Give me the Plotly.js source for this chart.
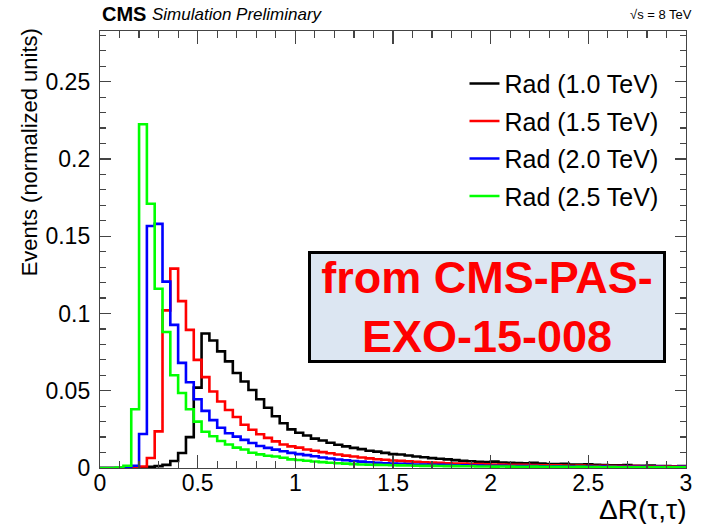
<!DOCTYPE html>
<html>
<head>
<meta charset="utf-8">
<script src="https://cdn.plot.ly/plotly-3.0.1.min.js"></script>
<style>
html,body{margin:0;padding:0;background:#fff;}
#chart{width:703px;height:524px;}
</style>
</head>
<body>
<div id="chart"></div>
<script>
// Histogram binning (75 bins of width 0.04 from 0 to 3)
const binLow = 0.0;
const binWidth = 0.04;
const nBins = 75;

const seriesNames = ["Rad (1.0 TeV)", "Rad (1.5 TeV)", "Rad (2.0 TeV)", "Rad (2.5 TeV)"];
const seriesColors = ["#000000", "#ff0000", "#0000ff", "#00ff00"];

const rad10 = [0,0,0,0,0.0003,0.0005,0.0008,0.0012,0.002,0.0045,
  0.0097,0.020,0.052,0.087,0.0825,0.0755,0.069,0.0615,0.056,0.0505,
  0.0445,0.039,0.0335,0.029,0.025,0.0228,0.021,0.019,0.0178,0.0163,
  0.015,0.014,0.013,0.0122,0.0112,0.0106,0.0098,0.009,0.0087,0.0081,
  0.0074,0.007,0.0064,0.006,0.0056,0.0051,0.0047,0.0044,0.004,0.0038,
  0.0041,0.0036,0.0034,0.0032,0.003,0.0033,0.0029,0.0026,0.0025,0.0027,
  0.0023,0.0022,0.0024,0.002,0.0019,0.0018,0.0017,0.0019,0.0015,0.0014,
  0.0016,0.0013,0.0012,0.0011,0.0012];

const rad15 = [0,0,0,0,0.0005,0.001,0.0065,0.0237,0.102,0.129,
  0.108,0.0894,0.070,0.0588,0.0495,0.043,0.0375,0.033,0.028,0.0248,
  0.0218,0.0195,0.0172,0.0152,0.014,0.0132,0.012,0.0112,0.0103,0.0095,
  0.0087,0.008,0.0074,0.0068,0.0062,0.0057,0.0053,0.0049,0.0046,0.0043,
  0.004,0.0037,0.0035,0.0033,0.0031,0.0029,0.0028,0.0026,0.0025,0.0024,
  0.0023,0.0022,0.0021,0.002,0.0021,0.0019,0.0018,0.0017,0.0018,0.0016,
  0.0015,0.0016,0.0014,0.0013,0.0014,0.0012,0.0012,0.0011,0.0012,0.001,
  0.001,0.0011,0.0009,0.0009,0.001];

const rad20 = [0,0,0,0.0003,0.0015,0.022,0.1566,0.158,0.1206,0.0926,
  0.068,0.0555,0.0445,0.037,0.031,0.026,0.0225,0.0203,0.0182,0.0162,
  0.0142,0.013,0.0119,0.0108,0.0098,0.009,0.0083,0.0076,0.0068,0.0061,
  0.0055,0.005,0.0045,0.0041,0.0037,0.0034,0.0031,0.0029,0.0027,0.0025,
  0.0023,0.0022,0.0021,0.002,0.0019,0.0018,0.0017,0.0016,0.0016,0.0015,
  0.0014,0.0015,0.0013,0.0012,0.0013,0.0012,0.0011,0.001,0.0011,0.001,
  0.0009,0.001,0.0009,0.0008,0.0009,0.0008,0.0007,0.0008,0.0007,0.0007,
  0.0006,0.0007,0.0006,0.0006,0.0007];

const rad25 = [0,0,0.0003,0.0015,0.038,0.2225,0.171,0.116,0.088,0.060,
  0.0485,0.038,0.030,0.0235,0.0205,0.0175,0.0152,0.0132,0.012,0.0099,
  0.0088,0.0079,0.0074,0.0066,0.0056,0.0052,0.0047,0.0042,0.0038,0.0034,
  0.0031,0.0028,0.0025,0.0023,0.0021,0.002,0.0019,0.0018,0.0017,0.0016,
  0.0015,0.0014,0.0014,0.0013,0.0012,0.0012,0.0011,0.0011,0.001,0.001,
  0.0009,0.001,0.0009,0.0008,0.0008,0.0009,0.0007,0.0008,0.0007,0.0007,
  0.0006,0.0007,0.0006,0.0006,0.0005,0.0006,0.0005,0.0005,0.0005,0.0004,
  0.0005,0.0004,0.0004,0.0004,0.0004];

const xTickVals = [0, 0.5, 1, 1.5, 2, 2.5, 3];
const xTickText = ["0", "0.5", "1", "1.5", "2", "2.5", "3"];
const yTickVals = [0, 0.05, 0.1, 0.15, 0.2, 0.25];
const yTickText = ["0", "0.05", "0.1", "0.15", "0.2", "0.25"];

const headerCMS = "CMS";
const headerSim = "Simulation Preliminary";
const headerEnergy = "\u221As = 8 TeV";
const xTitle = "\u0394R(\u03C4,\u03C4)";
const yTitle = "Events (normalized units)";
const stampText = "from CMS-PAS-<br>EXO-15-008";

// bin edges
const edges = [];
for (let i = 0; i <= nBins; i++) edges.push(+(binLow + i * binWidth).toFixed(4));

const allSeries = [rad10, rad15, rad20, rad25];
const traces = allSeries.map((vals, k) => ({
  type: "scatter",
  mode: "lines",
  x: edges,
  y: vals.concat([vals[vals.length - 1]]),
  line: {shape: "hv", color: seriesColors[k], width: 2.6},
  name: seriesNames[k],
  legendgroup: "g" + k,
  hoverinfo: "skip"
}));

const FONT = "Liberation Sans, Arial, Helvetica, sans-serif";
const axisCommon = {
  showline: true, linecolor: "#444", linewidth: 1.2,
  mirror: "allticks", ticks: "inside", tickcolor: "#444", tickwidth: 1.2,
  showgrid: false, zeroline: false,
  tickfont: {family: FONT, size: 23, color: "#000"},
  fixedrange: true
};

const layout = {
  width: 703, height: 524,
  margin: {l: 100, r: 17, t: 31, b: 56},
  paper_bgcolor: "#fff", plot_bgcolor: "#fff",
  showlegend: true,
  legend: {
    x: 0.622, y: 0.932, xanchor: "left", yanchor: "top",
    font: {family: FONT, size: 25, color: "#000"},
    bgcolor: "rgba(0,0,0,0)", borderwidth: 0,
    tracegroupgap: 2
  },
  xaxis: Object.assign({}, axisCommon, {
    range: [0, 3.0],
    tickmode: "array", tickvals: xTickVals, ticktext: xTickText,
    ticklen: 13, ticklabelstandoff: -6,
    minor: {dtick: 0.1, ticks: "inside", ticklen: 7, tickcolor: "#444", tickwidth: 1.2}
  }),
  yaxis: Object.assign({}, axisCommon, {
    range: [0, 0.2828],
    tickmode: "array", tickvals: yTickVals, ticktext: yTickText,
    ticklen: 11, ticklabelstandoff: 4,
    minor: {dtick: 0.01, ticks: "inside", ticklen: 6, tickcolor: "#444", tickwidth: 1.2}
  }),
  annotations: [
    {xref: "paper", yref: "paper", x: 0, y: 1.039, xanchor: "left", yanchor: "middle",
     text: "<b>" + headerCMS + "</b>", showarrow: false,
     font: {family: FONT, size: 20, color: "#000"}},
    {xref: "paper", yref: "paper", x: 0.085, y: 1.037, xanchor: "left", yanchor: "middle",
     text: "<i>" + headerSim + "</i>", showarrow: false,
     font: {family: FONT, size: 17, color: "#000"}},
    {xref: "paper", yref: "paper", x: 1.013, y: 1.037, xanchor: "right", yanchor: "middle",
     text: headerEnergy, showarrow: false,
     font: {family: FONT, size: 13, color: "#000"}},
    {xref: "paper", yref: "paper", x: 1.004, y: -0.094, xanchor: "right", yanchor: "middle",
     text: xTitle, showarrow: false,
     font: {family: FONT, size: 28, color: "#000"}},
    {xref: "paper", yref: "paper", x: -0.12, y: 1.01, xanchor: "center", yanchor: "top",
     text: yTitle, showarrow: false, textangle: -90,
     font: {family: FONT, size: 22, color: "#000"}},
    {xref: "paper", yref: "paper", x: 0.6596, y: 0.3684, xanchor: "center", yanchor: "middle",
     text: "<b>" + stampText + "</b>", showarrow: false,
     width: 352, height: 106, borderpad: 0,
     bgcolor: "#dce6f2", bordercolor: "#000", borderwidth: 3,
     font: {family: FONT, size: 45, color: "#ff0000"}}
  ]
};

Plotly.newPlot("chart", traces, layout, {staticPlot: true, displayModeBar: false});
</script>
</body>
</html>
